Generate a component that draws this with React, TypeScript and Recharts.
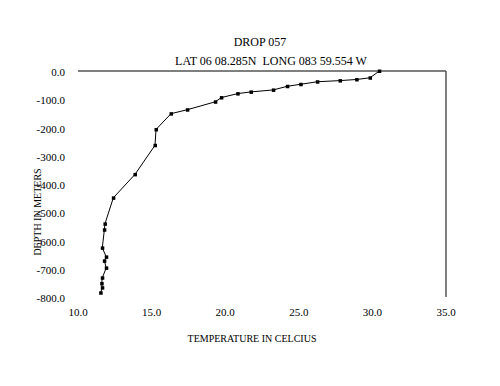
import React from "react";
import { ScatterChart, Scatter, XAxis, YAxis, ReferenceLine } from "recharts";

const temperatures = [
  30.47, 29.84, 28.93, 27.8, 26.26, 25.13, 24.22, 23.27, 21.75, 20.85, 19.74, 19.33,
  17.43, 16.32, 15.3, 15.23, 13.87, 12.4, 11.83, 11.79, 11.65, 11.92, 11.79, 11.92,
  11.65, 11.61, 11.65, 11.54,
];
const depths = [
  0, -24, -30, -34, -38, -47, -54, -67, -74, -80, -94, -109, -137, -151, -207, -263,
  -366, -449, -541, -562, -626, -658, -672, -697, -732, -752, -767, -785,
];
const xTicks = [10, 15, 20, 25, 30, 35];
const yTicks = [0, -100, -200, -300, -400, -500, -600, -700, -800];

const data = temperatures.map((t, i) => ({ t, d: depths[i] }));

const FONT = "Liberation Serif";
const textStyle = { fontFamily: FONT } as React.CSSProperties;

const Square = (props: any) => {
  const { cx, cy } = props;
  if (cx == null || cy == null) return null;
  return <rect x={cx - 1.5} y={cy - 1.5} width={3.5} height={3.5} fill="#000" />;
};

const XTick = (props: any) => {
  const { x, y, payload } = props;
  return (
    <text x={x} y={y + 4} textAnchor="middle" dominantBaseline="central" fontSize={11} style={textStyle} fill="#000">
      {Number(payload.value).toFixed(1)}
    </text>
  );
};

const YTick = (props: any) => {
  const { x, y, payload } = props;
  return (
    <text x={x} y={y + 1} textAnchor="end" dominantBaseline="central" fontSize={11} style={textStyle} fill="#000">
      {Number(payload.value).toFixed(1)}
    </text>
  );
};

export default function App() {
  return (
    <div style={{ position: "absolute", left: 0, top: 0, width: 500, height: 386, background: "#fff", fontFamily: FONT }}>
      <ScatterChart
        width={500}
        height={386}
        margin={{ top: 71, right: 54, bottom: 59, left: 18 }}
        style={{ fontFamily: FONT }}
      >
        <XAxis
          type="number"
          dataKey="t"
          domain={[10, 35]}
          ticks={xTicks}
          axisLine={false}
          tickLine={false}
          tickSize={0}
          tickMargin={11}
          height={30}
          interval={0}
          tick={XTick}
        />
        <YAxis
          type="number"
          dataKey="d"
          domain={[-800, 0]}
          ticks={yTicks}
          axisLine={false}
          tickLine={false}
          tickSize={0}
          tickMargin={13}
          width={60}
          interval={0}
          tick={YTick}
        />
        <ReferenceLine y={0} stroke="#555" strokeWidth={1.5} />
        <ReferenceLine x={35} stroke="#555" strokeWidth={1.5} />
        <Scatter
          data={data}
          line={{ stroke: "#000", strokeWidth: 1 }}
          shape={Square}
          fill="#000"
          isAnimationActive={false}
        />
      </ScatterChart>
      <svg
        width={500}
        height={386}
        style={{ position: "absolute", left: 0, top: 0, pointerEvents: "none" }}
      >
        <text x={260} y={42} textAnchor="middle" dominantBaseline="central" fontSize={12} style={textStyle} fill="#000">
          DROP 057
        </text>
        <text x={271} y={61} textAnchor="middle" dominantBaseline="central" fontSize={12} style={{ ...textStyle, whiteSpace: "pre" }} fill="#000">
          {"LAT 06 08.285N  LONG 083 59.554 W"}
        </text>
        <text x={252} y={338} textAnchor="middle" dominantBaseline="central" fontSize={10} style={textStyle} fill="#000">
          TEMPERATURE IN CELCIUS
        </text>
        <text
          x={37}
          y={212}
          textAnchor="middle"
          dominantBaseline="central"
          fontSize={10}
          style={textStyle}
          fill="#000"
          transform="rotate(-90 37 212)"
        >
          DEPTH IN METERS
        </text>
      </svg>
    </div>
  );
}
